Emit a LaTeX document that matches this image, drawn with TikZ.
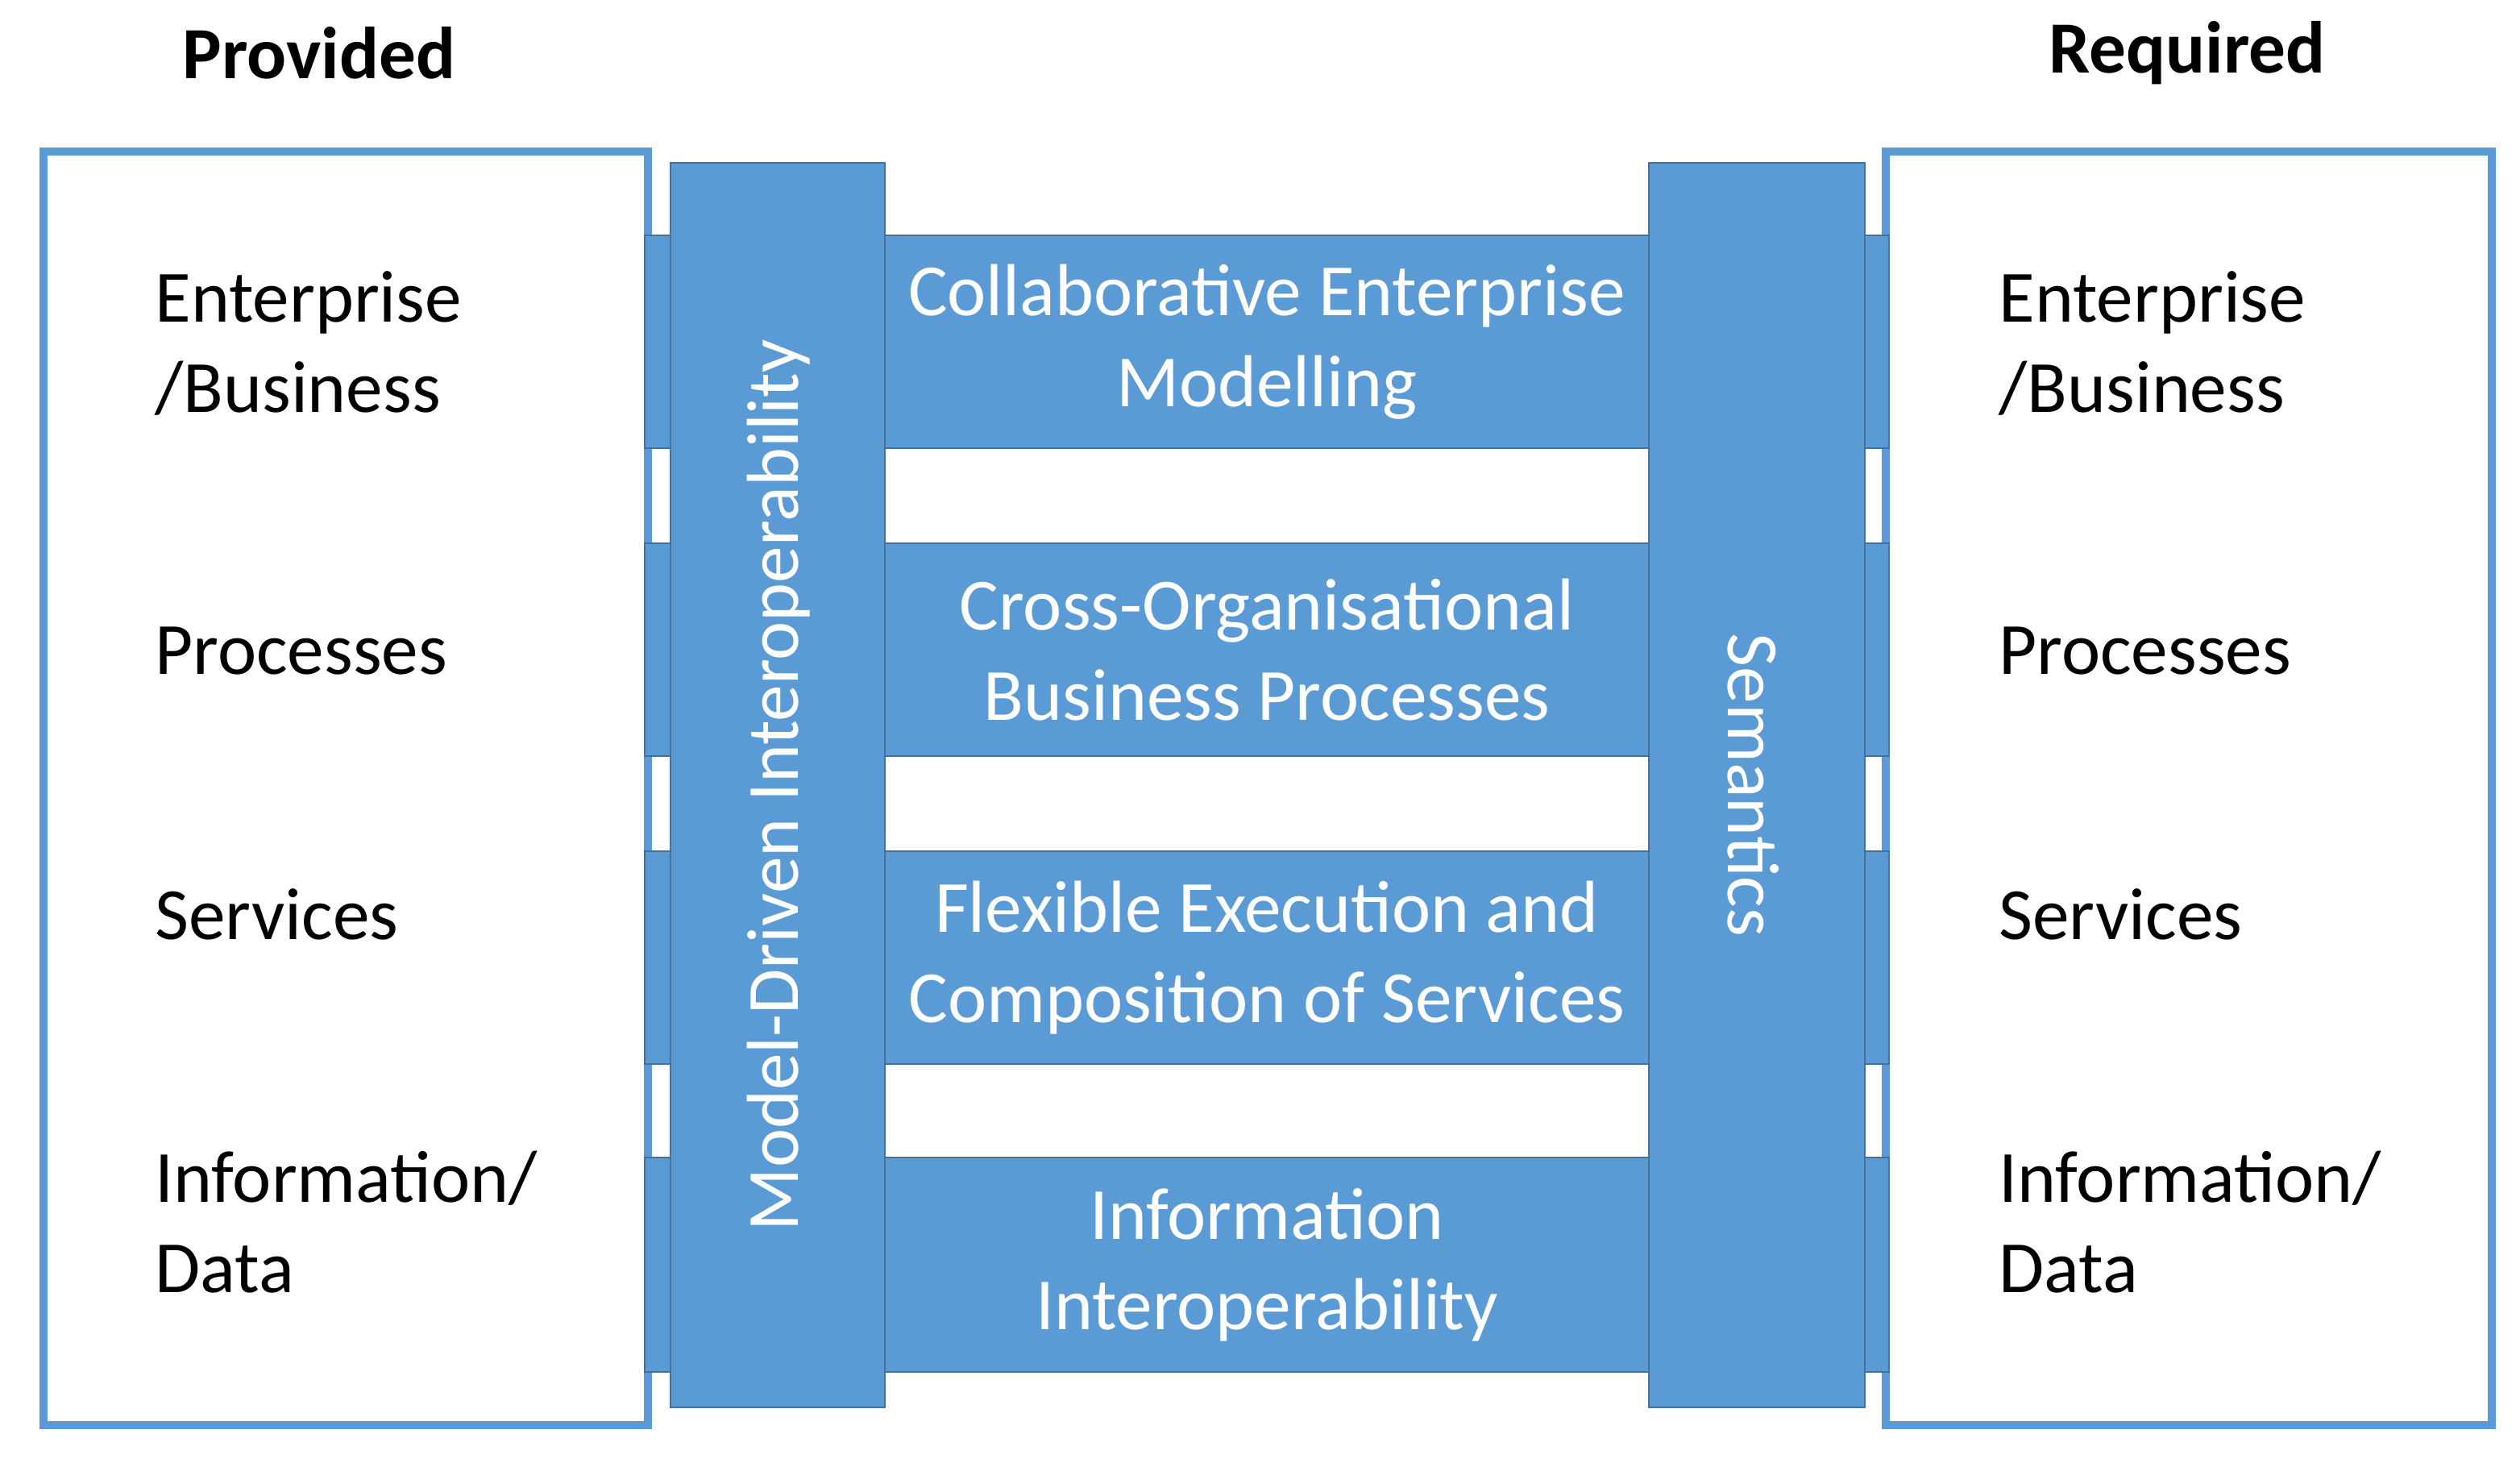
\documentclass[tikz,border=0pt]{standalone}
\usepackage{fontspec}
\setmainfont{Carlito}
\definecolor{bandblue}{RGB}{91, 155, 213}
\definecolor{edgeblue}{RGB}{65, 113, 156}
\tikzset{
  band/.style={fill=bandblue, draw=edgeblue, line width=0.8pt},
  frame/.style={fill=white, draw=bandblue, line width=2.6pt},
  lbl/.style={font=\fontsize{26}{32}\selectfont, align=left, anchor=west, text=black},
  blbl/.style={font=\fontsize{26}{32}\selectfont, align=center, text=white},
  head/.style={font=\fontsize{26}{32}\selectfont\bfseries}
}
\begin{document}
\begin{tikzpicture}[x=0.02cm, y=-0.02cm]
\useasboundingbox (0,0) rectangle (1563.5,907.5);
% titles
\node[head] (prov) at (198,33) {Provided};
\node[head] (req) at (1357,33) {Required};
% side boxes
\draw[frame] (27,94) rectangle (402,884);
\draw[frame] (1170,94) rectangle (1546,884);
% horizontal bands
\foreach \yt/\yb/\nm/\txt in {146/278/b1/{Collaborative Enterprise\\Modelling},
                               337/469/b2/{Cross-Organisational\\Business Processes},
                               528/660/b3/{Flexible Execution and\\Composition of Services},
                               718/851/b4/{Information\\Interoperability}}{
  \draw[band] (400,\yt) rectangle (1172,\yb);
  \node[blbl] (\nm) at (786,{(\yt+\yb)/2}) {\txt};
}
% columns
\draw[band] (416,101) rectangle (549,873);
\draw[band] (1023,101) rectangle (1157,873);
\node[blbl, rotate=90] (mdi) at (483,487) {Model-Driven Interoperability};
\node[blbl, rotate=-90] (sem) at (1088,487) {Semantics};
% side labels
\foreach \x/\s in {90/p, 1234/r}{
  \node[lbl] (\s1) at (\x,213) {Enterprise\\/Business};
  \node[lbl] (\s2) at (\x,404) {Processes};
  \node[lbl] (\s3) at (\x,567) {Services};
  \node[lbl] (\s4) at (\x,758) {Information/\\Data};
}
\end{tikzpicture}
\end{document}
